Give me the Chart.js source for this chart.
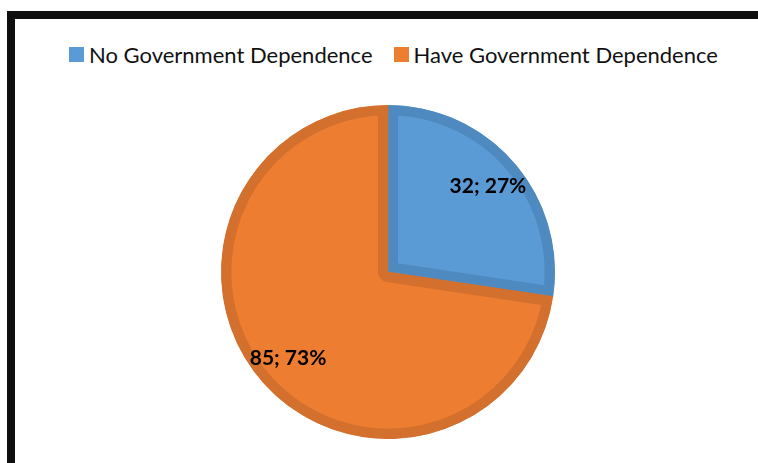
<!DOCTYPE html>
<html>
<head>
<meta charset="utf-8">
<script src="https://cdn.jsdelivr.net/npm/chart.js@4/dist/chart.umd.min.js"></script>
<style>
  html, body { margin: 0; padding: 0; background: #fff; overflow: hidden; }
  #wrap { position: relative; width: 758px; height: 463px; }
  #frame {
    position: absolute; left: 7px; top: 11px; width: 800px; height: 500px;
    border-left: 8px solid #0f0f0f; border-top: 8px solid #0f0f0f;
    box-sizing: border-box;
  }
  #legend {
    position: absolute; left: 69px; top: 40px; height: 28px;
    display: flex; align-items: center;
    font-family: Lato, "Noto Sans", sans-serif; font-size: 22px; color: #111;
    white-space: nowrap;
  }
  .item { display: flex; align-items: center; margin-right: 21px; }
  .box { width: 15px; height: 15px; margin-right: 5px; }
  canvas { position: absolute; left: 0; top: 0; }
</style>
</head>
<body>
<div id="wrap">
  <div id="frame"></div>
  <div id="legend"></div>
  <canvas id="c" width="758" height="463"></canvas>
</div>
<script>
const categories = ['No Government Dependence', 'Have Government Dependence'];
const counts = [32, 85];
const fillColors = ['#5B9BD5', '#ED7D31'];
const edgeColors = ['#4E89C0', '#D3702D'];

// legend
const legend = document.getElementById('legend');
categories.forEach((name, i) => {
  const item = document.createElement('div');
  item.className = 'item';
  const box = document.createElement('span');
  box.className = 'box';
  box.style.background = fillColors[i];
  const txt = document.createElement('span');
  txt.textContent = name;
  item.appendChild(box);
  item.appendChild(txt);
  legend.appendChild(item);
});

// "value; percent" labels placed along each slice's mid-angle
const sliceLabels = {
  id: 'sliceLabels',
  afterDatasetsDraw(chart) {
    const ctx = chart.ctx;
    const meta = chart.getDatasetMeta(0);
    const data = chart.data.datasets[0].data;
    const total = data.reduce((a, b) => a + b, 0);
    ctx.save();
    ctx.font = 'bold 21px Lato, "Noto Sans", sans-serif';
    ctx.fillStyle = '#000';
    ctx.textAlign = 'center';
    ctx.textBaseline = 'middle';
    meta.data.forEach((arc, i) => {
      const p = arc.getProps(['x', 'y', 'startAngle', 'endAngle', 'outerRadius'], true);
      const mid = (p.startAngle + p.endAngle) / 2;
      const d = p.outerRadius * 0.79;
      const pct = Math.round(data[i] / total * 100);
      ctx.fillText(data[i] + '; ' + pct + '%', p.x + Math.cos(mid) * d, p.y + Math.sin(mid) * d);
    });
    ctx.restore();
  }
};

new Chart(document.getElementById('c'), {
  type: 'pie',
  data: {
    labels: categories,
    datasets: [{
      data: counts,
      backgroundColor: fillColors,
      borderColor: edgeColors,
      borderWidth: 10,
      borderAlign: 'inner'
    }]
  },
  options: {
    responsive: false,
    animation: false,
    layout: { padding: { left: 221, right: 203, top: 105, bottom: 24 } },
    plugins: {
      legend: { display: false },
      tooltip: { enabled: false }
    }
  },
  plugins: [sliceLabels]
});
</script>
</body>
</html>
